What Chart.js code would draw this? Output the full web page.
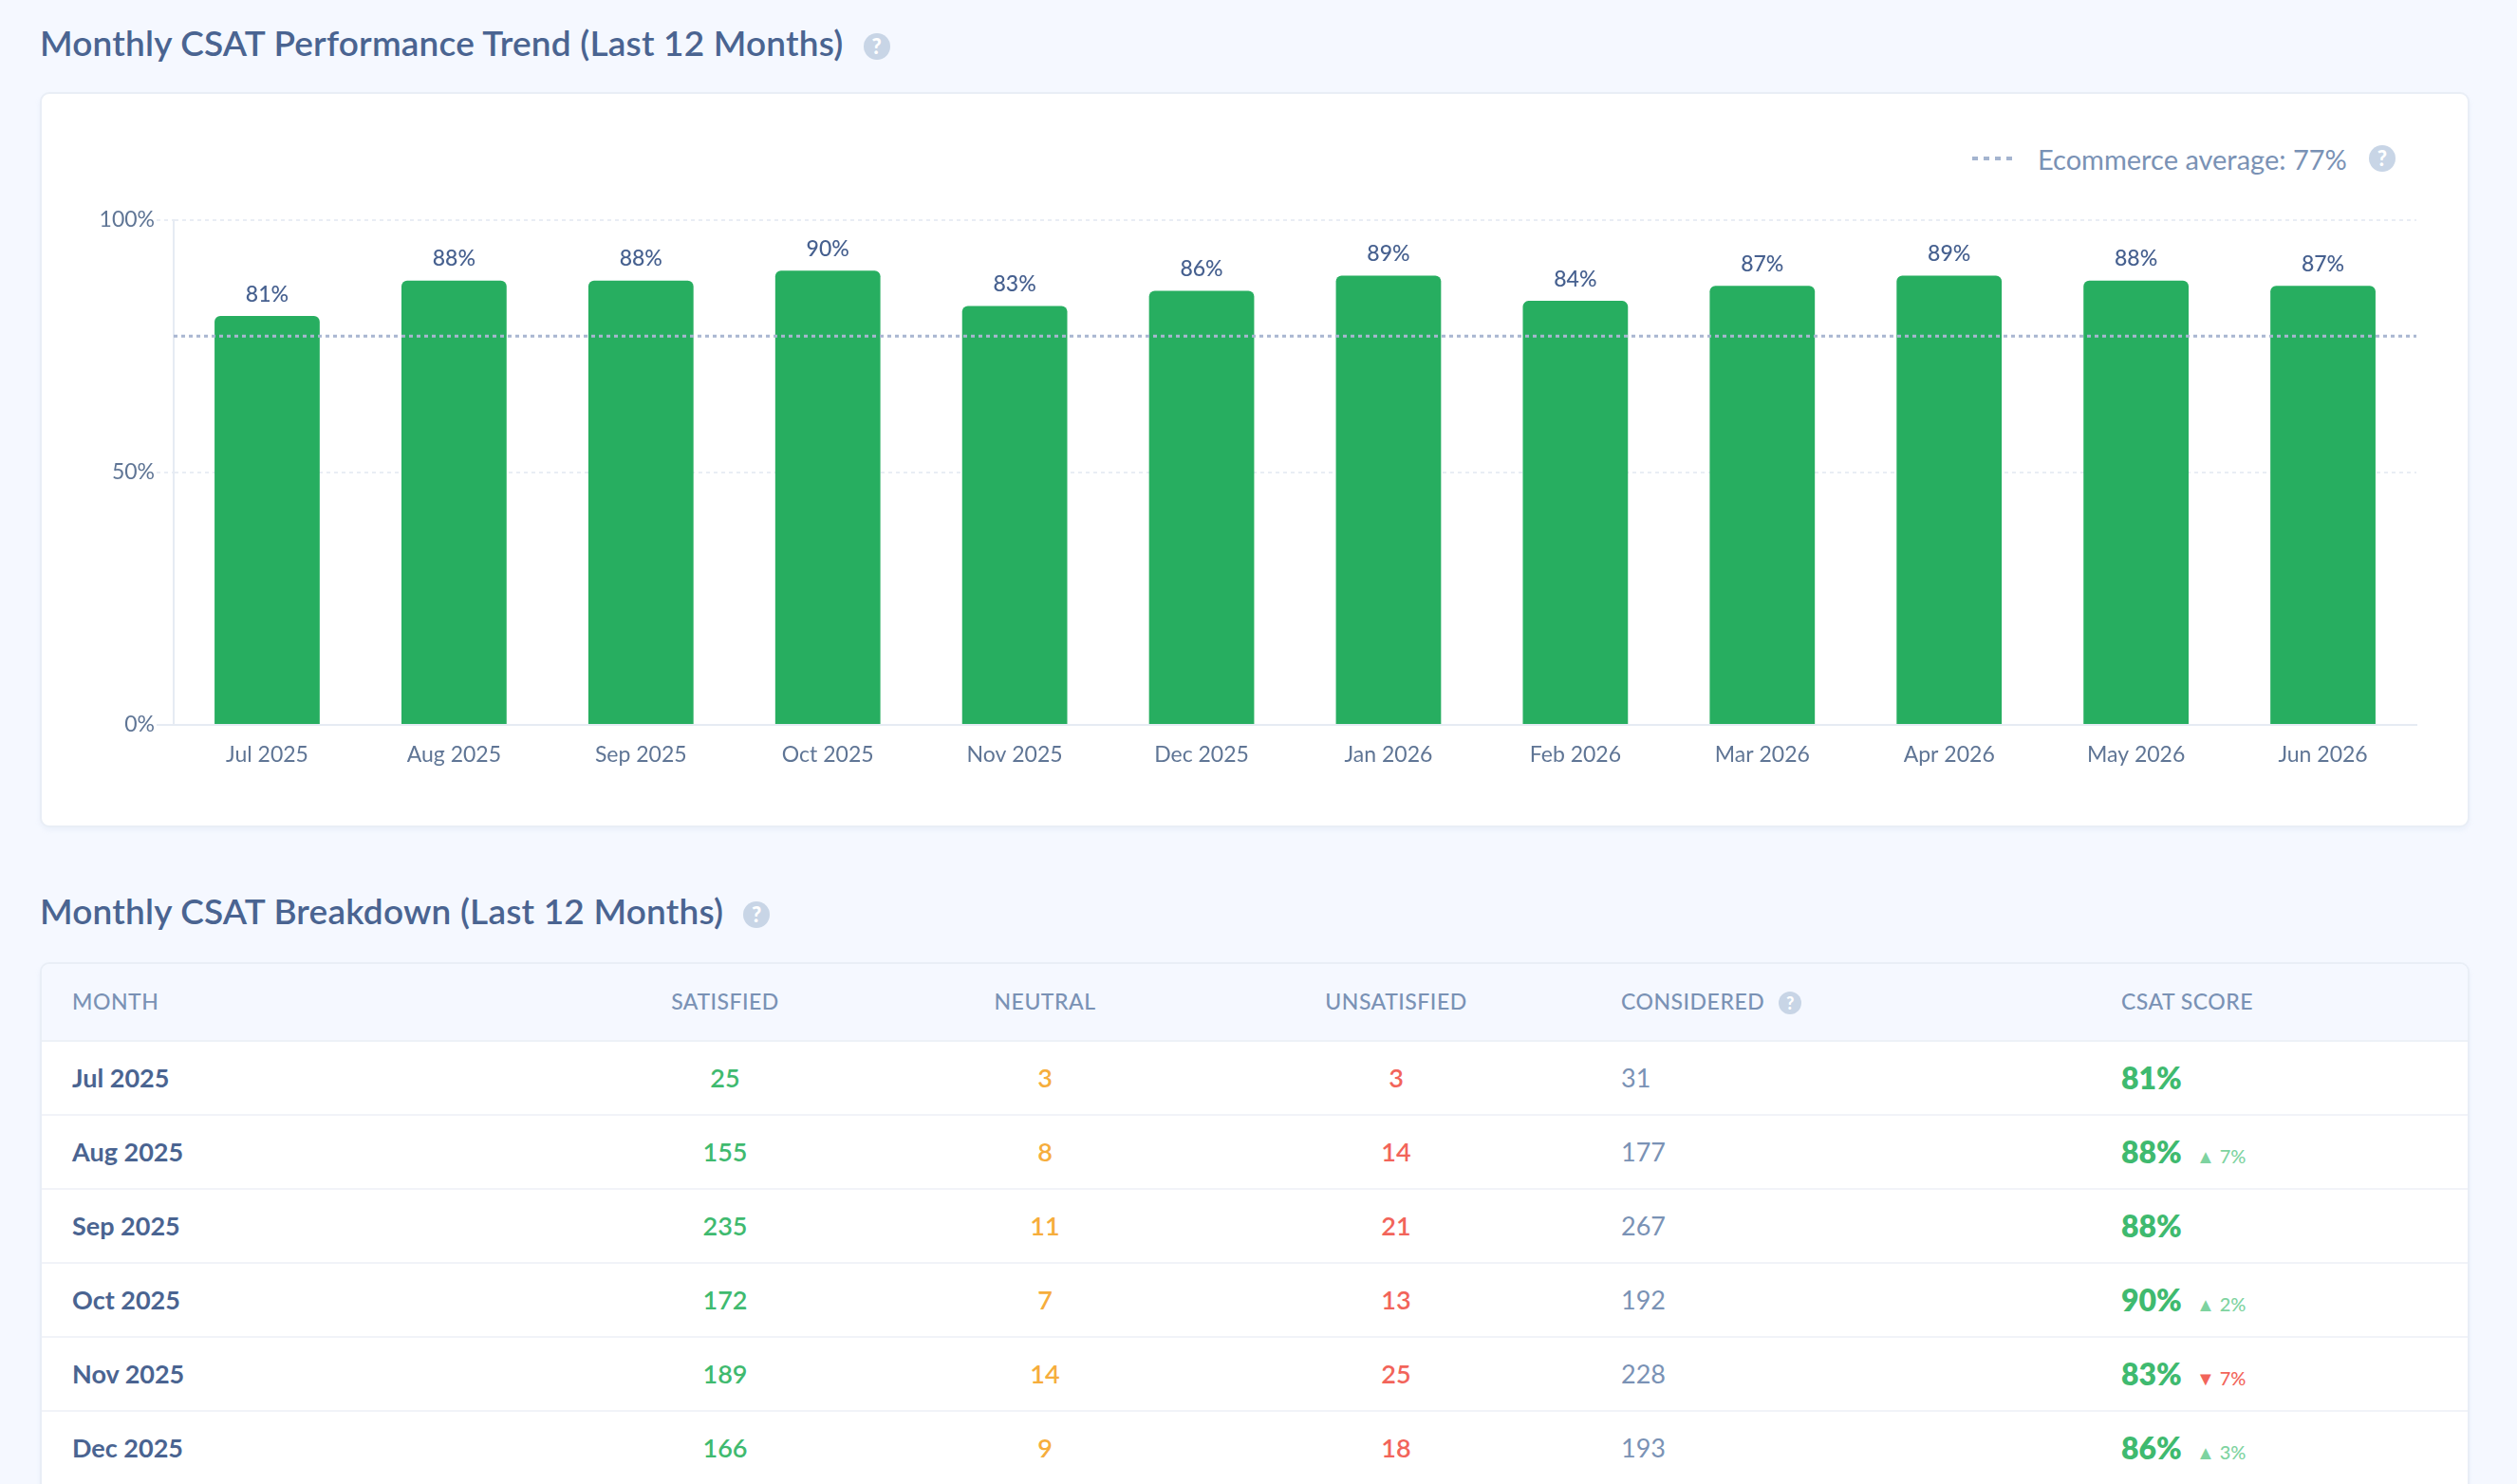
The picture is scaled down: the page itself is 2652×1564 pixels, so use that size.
<!DOCTYPE html>
<html>
<head>
<meta charset="utf-8">
<title>Monthly CSAT</title>
<script src="https://cdn.jsdelivr.net/npm/chart.js@4"></script>
<style>
  html, body { margin: 0; padding: 0; }
  body {
    width: 2652px; height: 1564px; overflow: hidden; position: relative;
    background: #f5f8ff; font-family: Lato, sans-serif; color: #4a6491;
  }
  h2 {
    position: absolute; left: 42px; margin: 0; font-size: 37px; line-height: 46px;
    font-weight: 600; color: #4a6491; white-space: nowrap; letter-spacing: 0.2px;
  }
  .help {
    display: inline-block; width: 28px; height: 28px; border-radius: 50%;
    background: #c8d5e6; color: #fff; font-size: 22px; font-weight: 900;
    line-height: 28px; text-align: center; letter-spacing: 0;
  }
  h2 .help { position: relative; top: -2px; margin-left: 21px; }
  .card {
    position: absolute; left: 42px; width: 2560px; box-sizing: border-box;
    border: 2px solid #e9eef6; border-radius: 10px;
    box-shadow: 0 3px 5px rgba(190, 205, 225, 0.18);
  }
  #chartCard { top: 97px; height: 775px; background: #fff; }
  #tableCard { top: 1014px; height: 700px; background: #f5f8ff; overflow: hidden; }
  #myChart { position: absolute; left: 60px; top: 200px; }
  #legend {
    position: absolute; left: 2078px; top: 147px; height: 40px; display: flex; align-items: center;
    color: #7a92b5; font-size: 29px; white-space: nowrap;
  }
  #legend .swatch {
    width: 42px; height: 4px; margin-right: 27px;
    background: repeating-linear-gradient(90deg, #a4b4cf 0 6px, transparent 6px 12px);
  }
  #legend .help { margin-left: 23px; }
  table { border-collapse: collapse; table-layout: fixed; width: 2556px; }
  th {
    height: 78px; padding: 0 0 2px; font-size: 23px; font-weight: 500; color: #7a92b5;
    letter-spacing: 0.5px; border-bottom: 2px solid #edf1f7; background: #f5f8ff;
  }
  th .help { width: 24px; height: 24px; line-height: 24px; font-size: 18px; margin-left: 15px; }
  td {
    height: 74px; padding: 0 0 2px; font-size: 27px; background: #fff;
    border-bottom: 2px solid #f1f3f8; font-weight: 600;
  }
  .left { text-align: left; }
  .mid { text-align: center; }
  td.month, th.month { padding-left: 32px; }
  td.month { color: #4a6491; font-weight: 700; }
  td.pad, th.pad { padding-left: 34px; }
  .good { color: #3fba6f; }
  .okay { color: #f6ad3c; }
  .bad { color: #f2645a; }
  td.total { color: #7a92b5; font-weight: 400; }
  .score { font-size: 32px; font-weight: 800; color: #3fba6f; }
  .delta { font-size: 20px; font-weight: 500; margin-left: 15px; }
  .delta.up { color: #7ed3a0; }
  .delta.down { color: #f2645a; }
</style>
</head>
<body>
  <h2 style="top:22px">Monthly CSAT Performance Trend (Last 12 Months)<span class="help">?</span></h2>
  <div class="card" id="chartCard"></div>
  <canvas id="myChart" width="2500" height="640"></canvas>
  <div id="legend"><span class="swatch"></span><span id="legendText"></span><span class="help">?</span></div>

  <h2 style="top:937px">Monthly CSAT Breakdown (Last 12 Months)<span class="help">?</span></h2>
  <div class="card" id="tableCard">
    <table>
      <colgroup>
        <col style="width:550px"><col style="width:340px"><col style="width:334px">
        <col style="width:406px"><col style="width:527px"><col style="width:399px">
      </colgroup>
      <thead>
        <tr>
          <th class="left month">MONTH</th>
          <th>SATISFIED</th>
          <th>NEUTRAL</th>
          <th>UNSATISFIED</th>
          <th class="left pad">CONSIDERED<span class="help">?</span></th>
          <th class="left pad">CSAT SCORE</th>
        </tr>
      </thead>
      <tbody id="rows"></tbody>
    </table>
  </div>

<script>
// bar chart data
const months = ['Jul 2025', 'Aug 2025', 'Sep 2025', 'Oct 2025', 'Nov 2025', 'Dec 2025',
  'Jan 2026', 'Feb 2026', 'Mar 2026', 'Apr 2026', 'May 2026', 'Jun 2026'];
const csatScores = [81, 88, 88, 90, 83, 86, 89, 84, 87, 89, 88, 87];
const ecommerceAverage = 77;
const yTickValues = [0, 50, 100];

// breakdown table data
const satisfied = [25, 155, 235, 172, 189, 166];
const neutral = [3, 8, 11, 7, 14, 9];
const unsatisfied = [3, 14, 21, 13, 25, 18];
const considered = [31, 177, 267, 192, 228, 193];
const scoreDeltas = [null, 7, null, 2, -7, 3];

const axisFont = { family: 'Lato, sans-serif', size: 23 };

document.getElementById('legendText').textContent = `Ecommerce average: ${ecommerceAverage}%`;

// fill in table rows
let rowsHtml = '';
satisfied.forEach((count, i) => {
  let delta = '';
  if (scoreDeltas[i] !== null) {
    let up = scoreDeltas[i] > 0;
    delta = `<span class="delta ${up ? 'up' : 'down'}">${up ? '▲' : '▼'} ${Math.abs(scoreDeltas[i])}%</span>`;
  }
  rowsHtml += `<tr>
    <td class="month">${months[i]}</td>
    <td class="mid good">${count}</td>
    <td class="mid okay">${neutral[i]}</td>
    <td class="mid bad">${unsatisfied[i]}</td>
    <td class="total pad">${considered[i]}</td>
    <td class="pad"><span class="score">${csatScores[i]}%</span>${delta}</td>
  </tr>`;
});
document.getElementById('rows').innerHTML = rowsHtml;

// dotted average line across the whole plot, placed by the y scale
const averageLine = {
  id: 'averageLine',
  afterDatasetsDraw(chart) {
    let ctx = chart.ctx;
    let area = chart.chartArea;
    let y = chart.scales.y.getPixelForValue(ecommerceAverage);
    ctx.save();
    ctx.strokeStyle = '#a9b6d1';
    ctx.lineWidth = 3;
    ctx.setLineDash([4, 4]);
    ctx.beginPath();
    ctx.moveTo(area.left, y);
    ctx.lineTo(area.right, y);
    ctx.stroke();
    ctx.restore();
  }
};

// writes the percentage above each bar
const barValueLabels = {
  id: 'barValueLabels',
  afterDatasetsDraw(chart) {
    let ctx = chart.ctx;
    let meta = chart.getDatasetMeta(0);
    ctx.save();
    ctx.font = '500 23px Lato, sans-serif';
    ctx.fillStyle = '#46608f';
    ctx.textAlign = 'center';
    ctx.textBaseline = 'middle';
    meta.data.forEach((bar, i) => {
      ctx.fillText(csatScores[i] + '%', bar.x, bar.y - 23);
    });
    ctx.restore();
  }
};

let ctx = document.getElementById('myChart').getContext('2d');

let myChart = new Chart(ctx, {
  type: 'bar',
  data: {
    labels: months,
    datasets: [
      {
        label: 'CSAT',
        data: csatScores,
        backgroundColor: '#27ae60',
        borderRadius: { topLeft: 6, topRight: 6, bottomLeft: 0, bottomRight: 0 },
        borderSkipped: false,
        categoryPercentage: 1,
        barPercentage: 0.5625
      }
    ]
  },
  options: {
    responsive: false,
    animation: false,
    layout: { padding: { top: 32, right: 14, left: 0, bottom: 0 } },
    plugins: { legend: { display: false }, tooltip: { enabled: false } },
    scales: {
      x: {
        afterFit(scale) { scale.height = 76; },
        grid: { display: false },
        border: { color: '#e6ebf3', width: 2 },
        ticks: { color: '#5f7595', font: axisFont, padding: 10, maxRotation: 0, autoSkip: false }
      },
      y: {
        min: 0,
        max: 100,
        afterFit(scale) { scale.width = 123; },
        afterBuildTicks(scale) { scale.ticks = yTickValues.map(value => ({ value })); },
        border: {
          color: '#e6ebf3',
          width: 2,
          dash: c => (c.tick && c.tick.value === 0 ? [] : [4, 4])
        },
        grid: {
          color: c => (c.tick && c.tick.value === 0 ? '#e6ebf3' : '#e9edf4'),
          lineWidth: 2,
          tickLength: 18,
          tickColor: c => (c.tick && c.tick.value === 0 ? '#e6ebf3' : '#e9edf4'),
          tickBorderDash: c => (c.tick && c.tick.value === 0 ? [] : [4, 4])
        },
        ticks: {
          color: '#5f7595',
          font: axisFont,
          padding: 2,
          callback: value => value + '%'
        }
      }
    }
  },
  plugins: [averageLine, barValueLabels]
});
</script>
</body>
</html>
